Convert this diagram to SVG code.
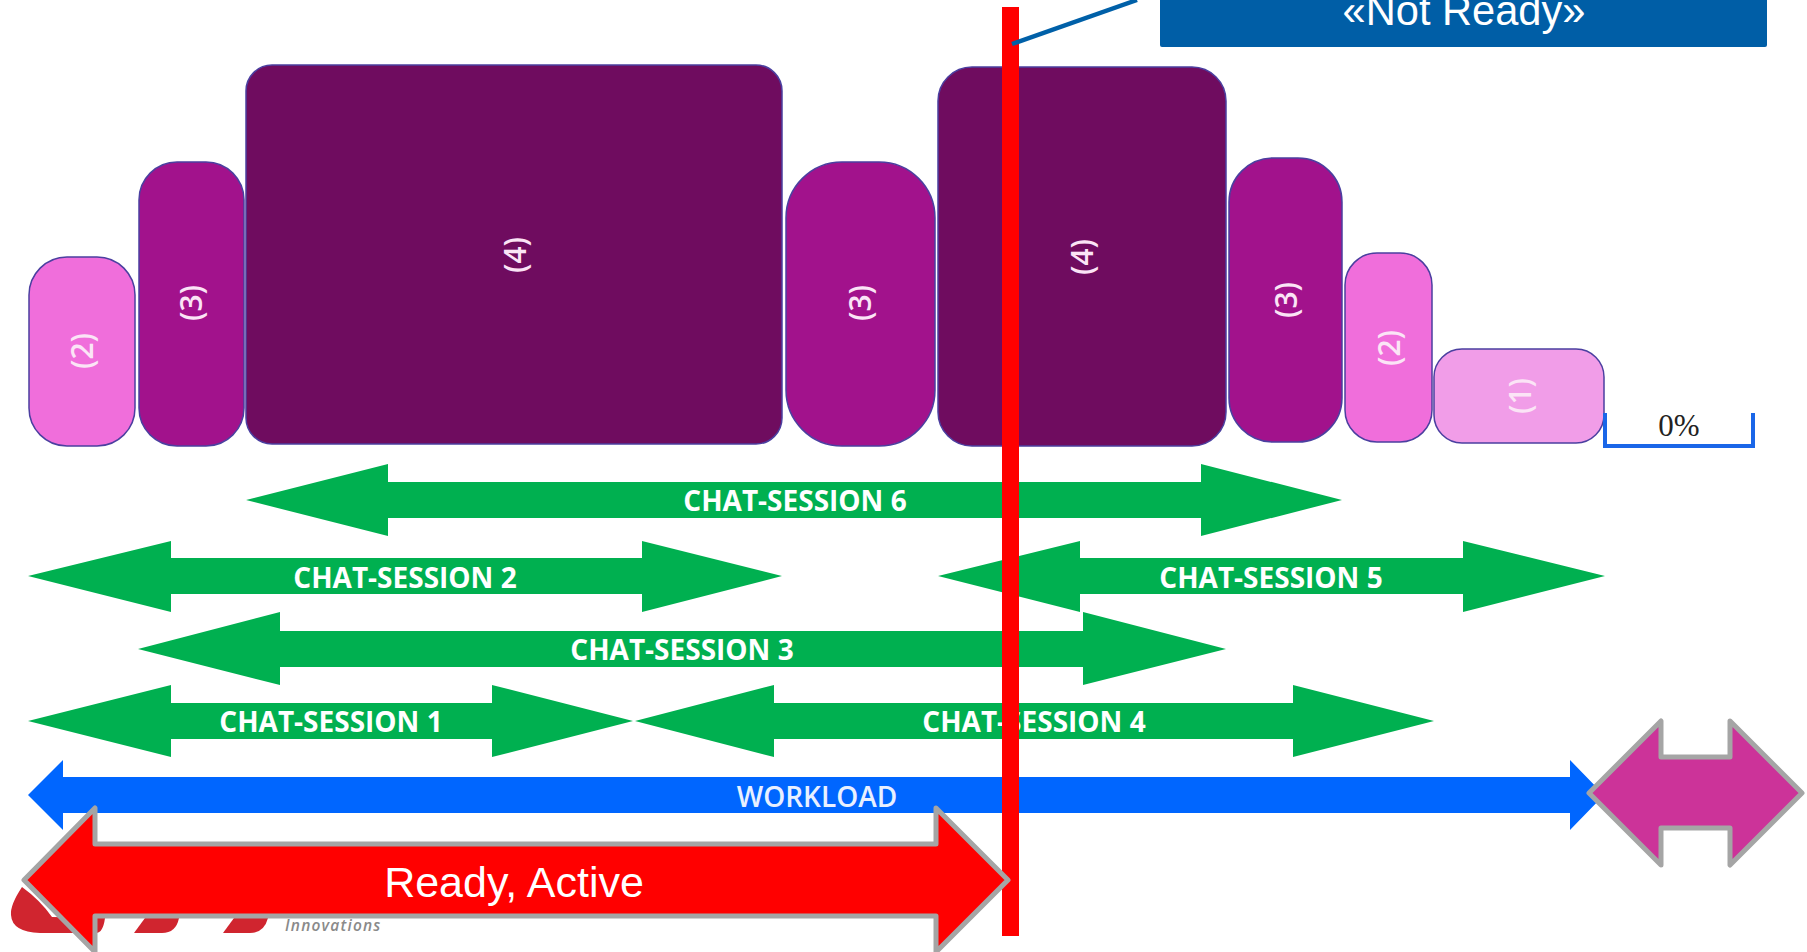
<svg xmlns="http://www.w3.org/2000/svg" width="1807" height="952" viewBox="0 0 1807 952">
<style>
.box{stroke:#4b3fa0;stroke-width:1.5}
.c2{fill:#f06edb}.c3{fill:#a2128c}.c4{fill:#6f0c5f}.c1{fill:#f19de8}
.num{font-family:"Open Sans",sans-serif;font-weight:600;font-size:30px;fill:#fbe4f6;text-anchor:middle}
.g{fill:#00b050}
.gt{font-family:"Open Sans",sans-serif;font-weight:700;font-size:28px;fill:#fff;text-anchor:middle}
.big{stroke:#a5a5a5;stroke-width:5;stroke-linejoin:round}
.sans{font-family:"Liberation Sans",Arial,sans-serif;fill:#fff;text-anchor:middle}
</style>
<rect width="1807" height="952" fill="#fff"/>
<g id="logo">
<path d="M22 887Q10 905 11 915Q12 932 40 933L96 933Q103 933 105 918L52 917Q40 900 22 887Z" fill="#d0252f"/>
<path d="M145 918L179 918Q176 933 162 933L134 933Z" fill="#d0252f"/>
<path d="M234 918L268 918Q264 933 250 933L223 933Z" fill="#d0252f"/>
<text x="285" y="931" font-family="'Open Sans',sans-serif" font-style="italic" font-weight="600" font-size="15.5" letter-spacing="1.2" fill="#8a8a8a">Innovations</text>
</g>
<g id="connectors">
<polygon class="g" points="246,500 388,464 388,482 1201,482 1201,464 1342,500 1201,536 1201,518 388,518 388,536"/>
<polygon class="g" points="28,576 171,541 171,558 642,558 642,541 782,576 642,612 642,594 171,594 171,612"/>
<polygon class="g" points="938,576 1080,541 1080,558 1463,558 1463,541 1605,576 1463,612 1463,594 1080,594 1080,612"/>
<polygon class="g" points="138,649 280,612 280,631 1083,631 1083,612 1226,649 1083,685 1083,667 280,667 280,685"/>
<polygon class="g" points="28,721 171,685 171,703 492,703 492,685 633,721 492,757 492,739 171,739 171,757"/>
<polygon class="g" points="635,721 774,685 774,703 1293,703 1293,685 1434,721 1293,757 1293,739 774,739 774,757"/>
<polygon fill="#0066ff" points="28,795 63,760 63,777 1570,777 1570,760 1604,795 1570,830 1570,813 63,813 63,830"/>
</g>
<g id="node-2a"><rect class="box c2" x="29" y="257" width="106" height="189" rx="38"/><text class="num" transform="translate(93,351) rotate(-90)">(2)</text></g>
<g id="node-3a"><rect class="box c3" x="139" y="162" width="105" height="284" rx="38"/><text class="num" transform="translate(202,303) rotate(-90)">(3)</text></g>
<g id="node-4a"><rect class="box c4" x="246" y="65" width="536" height="379" rx="26"/><text class="num" transform="translate(526,255) rotate(-90)">(4)</text></g>
<g id="node-3b"><rect class="box c3" x="786" y="162" width="149" height="284" rx="56"/><text class="num" transform="translate(871,303) rotate(-90)">(3)</text></g>
<g id="node-4b"><rect class="box c4" x="938" y="67" width="288" height="379" rx="34"/><text class="num" transform="translate(1093,257) rotate(-90)">(4)</text></g>
<g id="node-3c"><rect class="box c3" x="1229" y="158" width="113" height="284" rx="44"/><text class="num" transform="translate(1297,300) rotate(-90)">(3)</text></g>
<g id="node-2b"><rect class="box c2" x="1345" y="253" width="87" height="189" rx="32"/><text class="num" transform="translate(1400,348) rotate(-90)">(2)</text></g>
<g id="node-1"><rect class="box c1" x="1434" y="349" width="170" height="94" rx="28"/><text class="num" transform="translate(1531,396) rotate(-90)">(1)</text></g>
<g id="node-0"><path d="M1605 413V446H1753V413" fill="none" stroke="#1a66e8" stroke-width="4"/><text x="1679" y="436" font-family="'Liberation Serif',serif" font-size="31" text-anchor="middle" fill="#222">0%</text></g>
<g id="labels">
<text class="gt" x="795" y="511">CHAT-SESSION 6</text>
<text class="gt" x="405" y="588">CHAT-SESSION 2</text>
<text class="gt" x="1271" y="588">CHAT-SESSION 5</text>
<text class="gt" x="682" y="660">CHAT-SESSION 3</text>
<text class="gt" x="331" y="732">CHAT-SESSION 1</text>
<text class="gt" x="1034" y="732">CHAT-SESSION 4</text>
<text x="817" y="807" font-family="'Open Sans',sans-serif" font-weight="600" font-size="28" fill="#e8f0ff" text-anchor="middle">WORKLOAD</text>
</g>
<g id="marker-line"><rect x="1002" y="7" width="17" height="929" fill="#ff0000"/></g>
<path id="callout-line" d="M1137 0L1012 44" stroke="#0060a8" stroke-width="4.5" fill="none"/>
<g id="not-ready"><rect x="1160" y="-20" width="607" height="67" rx="2" fill="#005ea6"/><text class="sans" font-size="41.6" x="1464" y="24.5">«Not Ready»</text></g>
<g id="ready-active"><polygon class="big" fill="#ff0000" points="24,880 95,808 95,844 936,844 936,808 1008,880 936,952 936,916 95,916 95,952"/><text class="sans" font-size="43" x="514" y="897">Ready, Active</text></g>
<g id="magenta-arrow"><polygon class="big" fill="#cc3399" points="1589,793 1661,721 1661,757 1730,757 1730,721 1802,793 1730,865 1730,828 1661,828 1661,865"/></g>
</svg>
